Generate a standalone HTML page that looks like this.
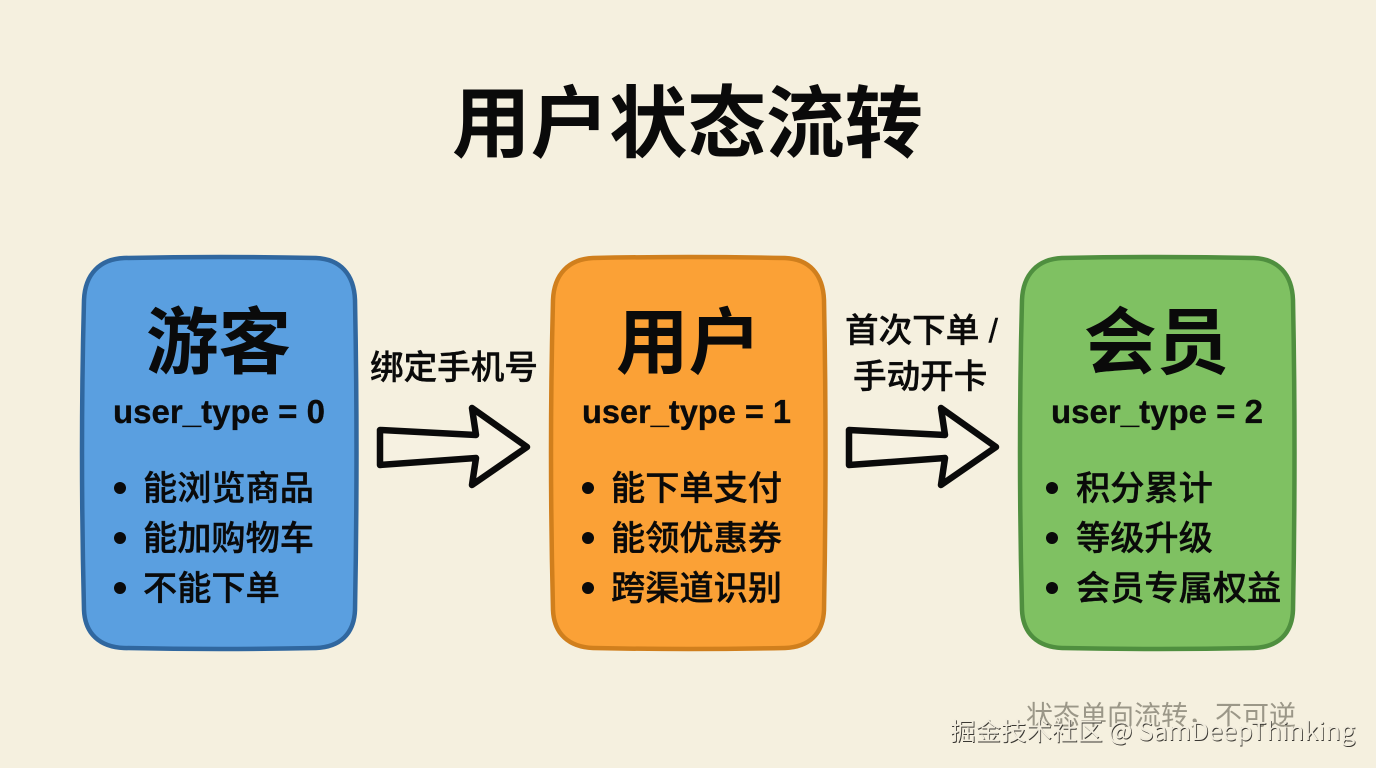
<!DOCTYPE html>
<html lang="zh">
<head>
<meta charset="utf-8">
<title>用户状态流转</title>
<style>
html,body{margin:0;padding:0;background:#f5f0df;width:1376px;height:768px;overflow:hidden}
svg{display:block}
text{font-family:"Liberation Sans","Noto Sans CJK SC",sans-serif;fill:#0a0a0a}
.t{font-size:78.5px;font-weight:700}
.h{font-size:72.5px;font-weight:700}
.c{font-family:"Liberation Sans",sans-serif;font-size:33px;font-weight:700;stroke:#0a0a0a;stroke-width:.3px}
.l{font-size:34.2px;font-weight:500;stroke:#0a0a0a;stroke-width:.4px}
.a{font-size:33.6px;font-weight:500;stroke:#0a0a0a;stroke-width:.4px}
.w1{font-size:27px;fill:#9b9788}
.w2,.w3{font-family:"Noto Sans CJK SC",sans-serif;font-size:24.7px}
.w2{fill:#3a3833}
.w3{fill:#f1ecdd}
.box{stroke-width:4.5}
.arr{fill:#f6f1e1;stroke:#0a0a0a;stroke-width:6.5;stroke-linejoin:round}
</style>
</head>
<body>
<svg width="1376" height="768" viewBox="0 0 1376 768" xmlns="http://www.w3.org/2000/svg">
<rect width="1376" height="768" fill="#f5f0df"/>
<text class="t" x="452" y="151">用户状态流转</text>

<!-- box 1 -->
<path class="box" fill="#5a9fe0" stroke="#30679f" d="M124 258 Q220 256 316 258 C340 259 354 274 355 300 Q358 450 355 610 C354 634 340 647 316 648 Q220 650 124 648 C100 647 85 634 84 610 Q80 450 84 300 C85 274 100 259 124 258Z"/>
<text class="h" x="146" y="368">游客</text>
<text class="c" x="113" y="423" textLength="212" lengthAdjust="spacingAndGlyphs">user_type = 0</text>
<circle cx="120" cy="488" r="6" fill="#0a0a0a"/>
<circle cx="120" cy="538" r="6" fill="#0a0a0a"/>
<circle cx="120" cy="588" r="6" fill="#0a0a0a"/>
<text class="l" x="143" y="500">能浏览商品</text>
<text class="l" x="143" y="550">能加购物车</text>
<text class="l" x="143" y="600">不能下单</text>

<!-- box 2 -->
<path class="box" fill="#fba136" stroke="#d07f1d" d="M593 258 Q689 256 785 258 C809 259 823 274 824 300 Q827 450 824 610 C823 634 809 647 785 648 Q689 650 593 648 C569 647 554 634 553 610 Q549 450 553 300 C554 274 569 259 593 258Z"/>
<text class="h" x="616" y="368">用户</text>
<text class="c" x="582" y="423" textLength="209" lengthAdjust="spacingAndGlyphs">user_type = 1</text>
<circle cx="588" cy="488" r="6" fill="#0a0a0a"/>
<circle cx="588" cy="538" r="6" fill="#0a0a0a"/>
<circle cx="588" cy="588" r="6" fill="#0a0a0a"/>
<text class="l" x="611" y="500">能下单支付</text>
<text class="l" x="611" y="550">能领优惠券</text>
<text class="l" x="611" y="600">跨渠道识别</text>

<!-- box 3 -->
<path class="box" fill="#7fc162" stroke="#4f8f3f" d="M1062 258 Q1158 256 1254 258 C1278 259 1292 274 1293 300 Q1296 450 1293 610 C1292 634 1278 647 1254 648 Q1158 650 1062 648 C1038 647 1023 634 1022 610 Q1018 450 1022 300 C1023 274 1038 259 1062 258Z"/>
<text class="h" x="1084" y="368">会员</text>
<text class="c" x="1051" y="423" textLength="212" lengthAdjust="spacingAndGlyphs">user_type = 2</text>
<circle cx="1052" cy="488" r="6" fill="#0a0a0a"/>
<circle cx="1052" cy="538" r="6" fill="#0a0a0a"/>
<circle cx="1052" cy="588" r="6" fill="#0a0a0a"/>
<text class="l" x="1076" y="500">积分累计</text>
<text class="l" x="1076" y="550">等级升级</text>
<text class="l" x="1076" y="600">会员专属权益</text>

<!-- arrows -->
<text class="a" x="370" y="379">绑定手机号</text>
<path class="arr" d="M380 430 L476 435 L472 408 L527 447 L472 485 L476 458 L380 465Z"/>

<text class="a" x="845" y="342">首次下单 /</text>
<text class="a" x="853" y="388">手动开卡</text>
<path class="arr" d="M849 430 L945 435 L941 408 L996 447 L941 485 L945 458 L849 465Z"/>

<!-- footer / watermark -->
<text class="w1" x="1026" y="725">状态单向流转，不可逆</text>
<text class="w2" x="951" y="741" textLength="405" lengthAdjust="spacingAndGlyphs">掘金技术社区 @ SamDeepThinking</text>
<text class="w3" x="950.2" y="740.2" textLength="405" lengthAdjust="spacingAndGlyphs">掘金技术社区 @ SamDeepThinking</text>
</svg>
</body>
</html>
